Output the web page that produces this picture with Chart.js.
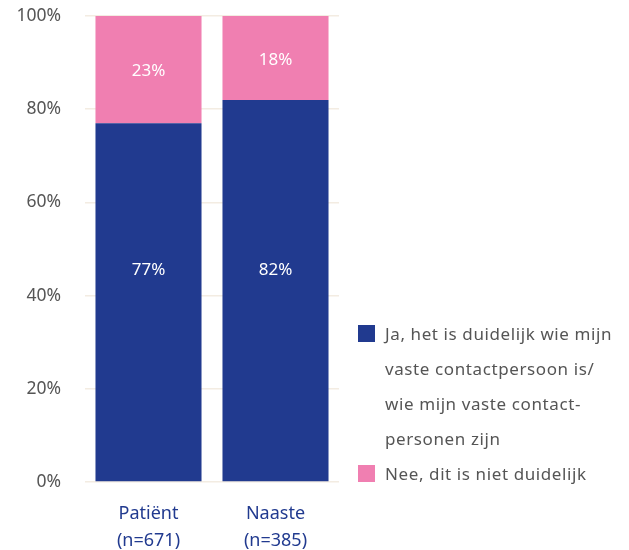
<!DOCTYPE html>
<html>
<head>
<meta charset="utf-8">
<script src="https://cdn.jsdelivr.net/npm/chart.js@4/dist/chart.umd.min.js"></script>
<style>
  html, body { margin: 0; padding: 0; background: #fff; }
  #wrap { position: relative; width: 629px; height: 550px; }
  #legend { position: absolute; left: 358px; top: 316px; font-family: "Noto Sans", sans-serif; font-size: 17px; letter-spacing: 0.6px; color: #555; }
  #legend .item { display: flex; align-items: flex-start; }
  #legend .box { width: 17px; height: 17px; margin-top: 9px; margin-right: 10px; flex: none; }
  #legend .txt { line-height: 35px; }
</style>
</head>
<body>
<div id="wrap">
  <canvas id="chart" width="629" height="550"></canvas>
  <div id="legend"></div>
</div>
<script>
// categorieën (x-as)
const categories = [["Patiënt", "(n=671)"], ["Naaste", "(n=385)"]];
// percentages per antwoord
const jaValues = [77, 82];
const neeValues = [23, 18];
// legenda teksten (regels zoals in het origineel)
const jaLegend = ["Ja, het is duidelijk wie mijn", "vaste contactpersoon is/", "wie mijn vaste contact-", "personen zijn"];
const neeLegend = ["Nee, dit is niet duidelijk"];
// y-as ticks
const yTicks = [0, 20, 40, 60, 80, 100];

const BLUE = "#213a8f";
const PINK = "#f07fb1";

// waarden in de balken tekenen
const barLabelPlugin = {
  id: "barLabels",
  afterDatasetsDraw(chart) {
    const ctx = chart.ctx;
    const yScale = chart.scales.y;
    ctx.save();
    ctx.font = "17px 'Noto Sans', sans-serif";
    ctx.fillStyle = "#fff";
    ctx.textAlign = "center";
    ctx.textBaseline = "middle";
    chart.data.datasets.forEach((ds, i) => {
      chart.getDatasetMeta(i).data.forEach((bar, j) => {
        const y = ds.labelAt !== undefined ? yScale.getPixelForValue(ds.labelAt) : (bar.y + bar.base) / 2 + 2;
        ctx.fillText(ds.data[j] + "%", bar.x, y);
      });
    });
    ctx.restore();
  },
};

const chart = new Chart(document.getElementById("chart"), {
  type: "bar",
  data: {
    labels: categories,
    datasets: [
      { label: jaLegend.join(" "), data: jaValues, backgroundColor: BLUE, labelAt: 45.5 },
      { label: neeLegend.join(" "), data: neeValues, backgroundColor: PINK },
    ],
  },
  options: {
    responsive: false,
    animation: false,
    layout: { padding: { top: 0, right: 290, left: 0, bottom: 0 } },
    datasets: { bar: { categoryPercentage: 0.835, barPercentage: 1 } },
    scales: {
      x: {
        stacked: true,
        grid: { display: false },
        border: { display: false },
        ticks: {
          color: BLUE,
          font: { family: "'Noto Sans', sans-serif", size: 18, lineHeight: 1.5 },
          padding: 10,
          maxRotation: 0,
        },
        afterFit(scale) { scale.height = 68; },
      },
      y: {
        stacked: true,
        min: 0,
        max: 100,
        afterBuildTicks(scale) { scale.ticks = yTicks.map(v => ({ value: v })); },
        grid: { color: "#f3ece2", lineWidth: 1.5, drawTicks: false },
        border: { display: false },
        ticks: {
          color: "#555",
          font: { family: "'Noto Sans', sans-serif", size: 17.5 },
          padding: 24,
          callback: v => v + "%",
        },
        afterFit(scale) {
          scale.width = 85;
          scale.paddingTop = 16;
          scale.paddingBottom = 0;
        },
      },
    },
    plugins: {
      legend: { display: false },
      tooltip: { enabled: false },
    },
  },
  plugins: [barLabelPlugin],
});

// HTML legenda uit de datasets opbouwen
const legendEl = document.getElementById("legend");
[[BLUE, jaLegend], [PINK, neeLegend]].forEach(([color, lines]) => {
  const item = document.createElement("div");
  item.className = "item";
  const box = document.createElement("div");
  box.className = "box";
  box.style.background = color;
  const txt = document.createElement("div");
  txt.className = "txt";
  txt.innerHTML = lines.join("<br>");
  item.appendChild(box);
  item.appendChild(txt);
  legendEl.appendChild(item);
});
</script>
</body>
</html>
